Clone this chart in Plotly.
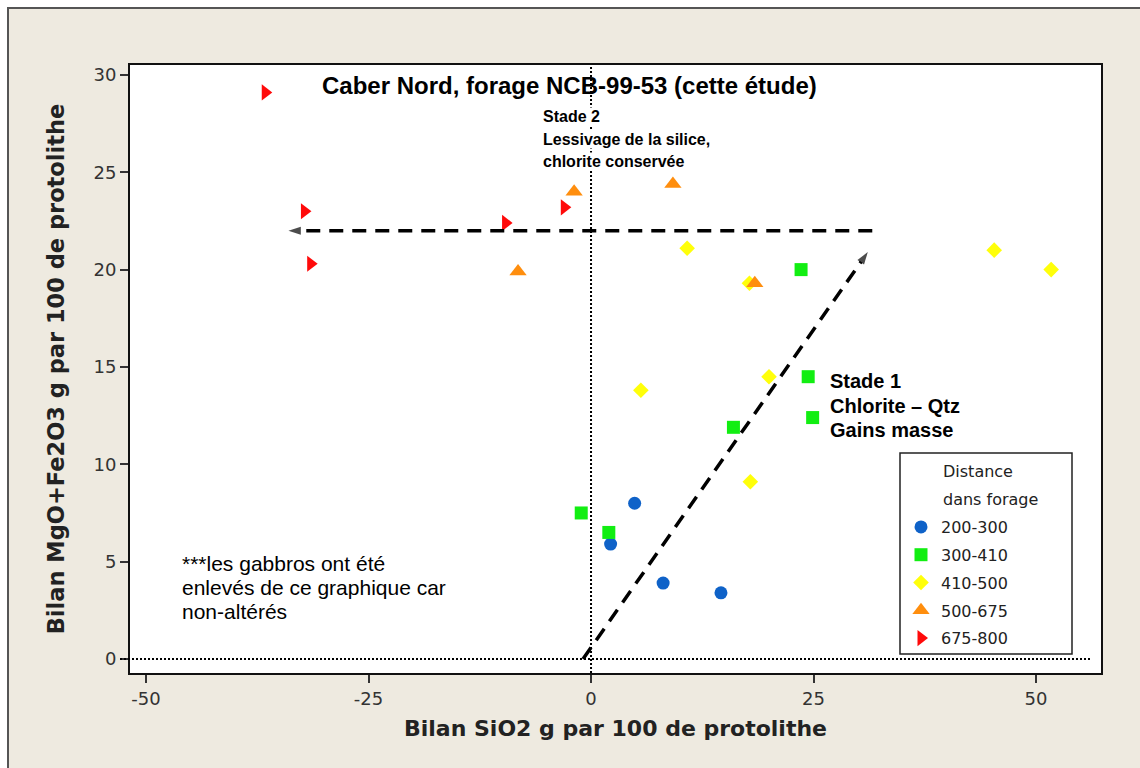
import plotly.graph_objects as go

# ---------------- data ----------------
groups = ["200-300", "300-410", "410-500", "500-675", "675-800"]

x_200_300 = [4.9, 2.2, 8.1, 14.6]
y_200_300 = [8.0, 5.9, 3.9, 3.4]

x_300_410 = [23.6, 24.4, 24.9, 16.0, -1.1, 2.0]
y_300_410 = [20.0, 14.5, 12.4, 11.9, 7.5, 6.5]

x_410_500 = [10.8, 17.8, 5.6, 20.0, 17.9, 45.3, 51.7]
y_410_500 = [21.1, 19.3, 13.8, 14.5, 9.1, 21.0, 20.0]

x_500_675 = [-8.2, -1.9, 9.2, 18.4]
y_500_675 = [19.9, 24.0, 24.4, 19.3]

x_675_800 = [-36.6, -32.2, -31.5, -9.6, -3.0]
y_675_800 = [29.1, 23.0, 20.3, 22.4, 23.2]

# trend arrows (stage 2 horizontal, stage 1 diagonal)
stage2_x = [31.6, -34.0]
stage2_y = [22.0, 22.0]
stage1_x = [-0.9, 31.1]
stage1_y = [0.0, 20.9]

x_ticks = [-50, -25, 0, 25, 50]
x_tick_labels = ["-50", "-25", "0", "25", "50"]
y_ticks = [0, 5, 10, 15, 20, 25, 30]
y_tick_labels = ["0", "5", "10", "15", "20", "25", "30"]
x_range = [-51.8, 57.3]
y_range = [-0.72, 30.51]

# ---------------- figure ----------------
W, H = 1140, 768
L, R, T, B = 130, 39, 65, 95
PW, PH = W - L - R, H - T - B


def px(xp):
    return (xp - L) / PW


def py(yp):
    return (H - B - yp) / PH


series = [
    (x_200_300, y_200_300, "circle", 13, "#0F62C8"),
    (x_300_410, y_300_410, "square", 13, "#12EE12"),
    (x_410_500, y_410_500, "diamond", 12, "#FFFF0A"),
    (x_500_675, y_500_675, "triangle-up", 15, "#FF8E0E"),
    (x_675_800, y_675_800, "triangle-right", 14, "#FF0A0A"),
]

fig = go.Figure()

for (xs, ys, sym, size, col), name in zip(series, groups):
    fig.add_trace(go.Scatter(
        x=xs, y=ys, mode="markers", name=name, legendgroup=name,
        marker=dict(symbol=sym, size=size, color=col, line=dict(width=0)),
    ))

for xs, ys in [(stage2_x, stage2_y), (stage1_x, stage1_y)]:
    fig.add_trace(go.Scatter(
        x=xs, y=ys, mode="lines+markers", showlegend=False, hoverinfo="skip",
        line=dict(color="black", width=3.5, dash="14px,9px"),
        marker=dict(symbol=["circle", "arrow"], size=[0, 13], color="black",
                    angleref="previous", line=dict(width=0)),
    ))

shapes = [
    # beige window background with dark border
    dict(type="rect", xref="paper", yref="paper", layer="below",
         x0=px(8), x1=px(1150), y0=py(780), y1=py(8),
         fillcolor="#EEEAE0", line=dict(color="#555555", width=2)),
    # white plot area
    dict(type="rect", xref="paper", yref="paper", layer="below",
         x0=0, x1=1, y0=0, y1=1, fillcolor="white", line=dict(width=0)),
    # legend box
    dict(type="rect", xref="paper", yref="paper", layer="below",
         x0=px(900), x1=px(1072), y0=py(654), y1=py(453),
         fillcolor="white", line=dict(color="#222222", width=1.5)),
    # dotted reference lines
    dict(type="line", xref="x", yref="y domain", x0=0, x1=0, y0=0, y1=1,
         line=dict(color="black", width=2, dash="2px,2px")),
    dict(type="line", xref="paper", yref="y", x0=px(120), x1=px(1091), y0=0, y1=0,
         line=dict(color="black", width=2, dash="2px,2px")),
]

bold = "Liberation Sans"
annotations = [
    dict(text="<b>Caber Nord, forage NCB-99-53 (cette étude)</b>",
         x=px(569), y=py(85), xanchor="center", yanchor="middle",
         font=dict(family="Liberation Sans Narrow, Liberation Sans", size=24, color="black"),
         bgcolor="rgba(0,0,0,0)"),
]
for t, yc in [("Stade 2", 116), ("Lessivage de la silice,", 139), ("chlorite conservée", 161)]:
    annotations.append(dict(text="<b>" + t + "</b>", x=px(542), y=py(yc), xanchor="left",
                            yanchor="middle", font=dict(family=bold, size=16, color="black"),
                            bgcolor="white", borderpad=0))
for t, yc in [("Stade 1", 381), ("Chlorite – Qtz", 406), ("Gains masse", 430)]:
    annotations.append(dict(text="<b>" + t + "</b>", x=px(828), y=py(yc), xanchor="left",
                            yanchor="middle", font=dict(family=bold, size=20, color="black")))
for t, yc in [("***les gabbros ont été", 563), ("enlevés de ce graphique car", 587),
              ("non-altérés", 611)]:
    annotations.append(dict(text=t, x=px(180), y=py(yc), xanchor="left",
                            yanchor="middle", font=dict(family="Liberation Sans", size=21, color="black")))
for t, yc in [("Distance", 472), ("dans forage", 499)]:
    annotations.append(dict(text=t, x=px(941), y=py(yc), xanchor="left",
                            yanchor="middle", font=dict(family="DejaVu Sans", size=16, color="#222222")))
for a in annotations:
    a.update(xref="paper", yref="paper", showarrow=False)

axis_common = dict(
    showgrid=False, zeroline=False, showline=True, mirror=True,
    linecolor="#111111", linewidth=2,
    ticks="outside", ticklen=8, tickwidth=1.5, tickcolor="#333333",
    tickfont=dict(family="DejaVu Sans", size=18, color="#333333"),
    automargin=False,
)

fig.update_layout(
    width=W, height=H,
    margin=dict(l=L, r=R, t=T, b=B, pad=0),
    paper_bgcolor="white", plot_bgcolor="white",
    xaxis=dict(range=x_range, tickvals=x_ticks, ticktext=x_tick_labels, **axis_common,
               title=dict(text="<b>Bilan SiO2 g par 100 de protolithe</b>", standoff=13,
                          font=dict(family="DejaVu Sans", size=22, color="#222222"))),
    yaxis=dict(range=y_range, tickvals=y_ticks, ticktext=y_tick_labels, **axis_common,
               title=dict(text="<b>Bilan MgO+Fe2O3 g par 100 de protolithe</b>", standoff=23,
                          font=dict(family="DejaVu Sans", size=22.5, color="#222222"))),
    shapes=shapes,
    annotations=annotations,
    showlegend=True,
    legend=dict(x=px(901), y=py(510), xanchor="left", yanchor="top",
                bgcolor="rgba(0,0,0,0)", borderwidth=0,
                traceorder="grouped", tracegroupgap=4,
                font=dict(family="DejaVu Sans", size=16, color="#222222")),
)

fig.write_html("out.html")
